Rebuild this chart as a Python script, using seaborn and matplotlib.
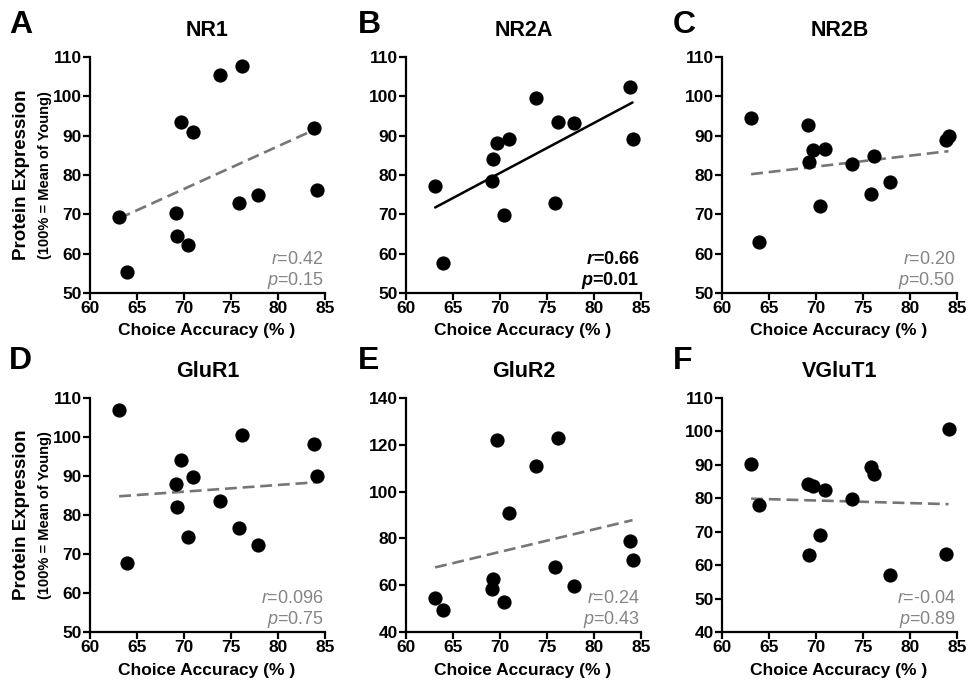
import matplotlib
matplotlib.use("Agg")
import matplotlib.pyplot as plt
import seaborn as sns
import pandas as pd

# choice accuracy (%) of the 13 aged rats, same for every panel
accuracy = [63.1, 63.9, 69.1, 69.3, 69.7, 70.4, 71.0, 73.8, 75.8, 76.2, 77.9, 83.8, 84.1]

# protein expression (% of young mean) per marker
nr1 = [69.3, 55.3, 70.3, 64.5, 93.6, 62.2, 90.9, 105.4, 72.8, 107.8, 75.0, 92.0, 76.2]
nr2a = [77.3, 57.6, 78.4, 84.1, 88.1, 69.8, 89.2, 99.5, 72.8, 93.6, 93.2, 102.4, 89.1]
nr2b = [94.4, 63.0, 92.7, 83.2, 86.3, 72.1, 86.7, 82.7, 75.2, 84.8, 78.2, 89.0, 90.0]
glur1 = [107.0, 67.7, 88.0, 82.0, 94.2, 74.3, 89.8, 83.7, 76.7, 100.6, 72.2, 98.2, 89.9]
glur2 = [54.6, 49.6, 58.3, 62.8, 122.2, 52.8, 90.9, 111.0, 67.6, 122.8, 59.8, 78.7, 70.7]
vglut1 = [90.2, 78.0, 84.4, 63.0, 83.6, 69.1, 82.6, 79.8, 89.5, 87.3, 57.0, 63.2, 100.8]

letters = ["A", "B", "C", "D", "E", "F"]
proteins = ["NR1", "NR2A", "NR2B", "GluR1", "GluR2", "VGluT1"]
values = [nr1, nr2a, nr2b, glur1, glur2, vglut1]
r_text = ["0.42", "0.66", "0.20", "0.096", "0.24", "-0.04"]
p_text = ["0.15", "0.01", "0.50", "0.75", "0.43", "0.89"]
significant = [False, True, False, False, False, False]
y_ranges = [(50, 110), (50, 110), (50, 110), (50, 110), (40, 140), (40, 110)]
y_steps = [10, 10, 10, 10, 20, 10]

sns.set_style("ticks")
plt.rcParams["font.family"] = ["Liberation Sans", "DejaVu Sans"]
plt.rcParams["text.color"] = "black"
plt.rcParams["axes.labelcolor"] = "black"
plt.rcParams["mathtext.fontset"] = "custom"
plt.rcParams["mathtext.it"] = "Liberation Sans:italic:normal"
plt.rcParams["mathtext.rm"] = "Liberation Sans:normal"
plt.rcParams["mathtext.bf"] = "Liberation Sans:bold"
plt.rcParams["mathtext.bfit"] = "Liberation Sans:bold:italic"

W, H = 968, 688
fig = plt.figure(figsize=(W / 100, H / 100), dpi=100)

lefts = [90, 406, 722]
rows = [(57, 293), (398, 632)]

for i in range(6):
    row, col = divmod(i, 3)
    top, bot = rows[row]
    left = lefts[col]
    ax = fig.add_axes([left / W, (H - bot) / H, 235 / W, (bot - top) / H])

    df = pd.DataFrame({"x": accuracy, "y": values[i]})
    if significant[i]:
        line_kws = dict(color="black", lw=1.8, ls="-")
    else:
        line_kws = dict(color="#767676", lw=1.9, ls=(0, (4.5, 2.2)))
    sns.regplot(data=df, x="x", y="y", ax=ax, ci=None, truncate=True,
                scatter_kws=dict(s=105, color="black", alpha=1, linewidths=0, zorder=3),
                line_kws=line_kws)

    ymin, ymax = y_ranges[i]
    ax.set_xlim(60, 85)
    ax.set_ylim(ymin, ymax)
    ax.set_xticks(range(60, 86, 5))
    ax.set_yticks(range(ymin, ymax + 1, y_steps[i]))
    ax.set_xlabel("")
    ax.set_ylabel("")
    sns.despine(ax=ax)
    for s in ["left", "bottom"]:
        ax.spines[s].set_linewidth(1.6)
        ax.spines[s].set_color("black")
    ax.tick_params(width=1.6, length=5, labelsize=12.5, pad=1, colors="black")
    for lab in ax.get_xticklabels() + ax.get_yticklabels():
        lab.set_fontweight("bold")

    ax.set_title(proteins[i], fontsize=15.5, fontweight="bold", pad=15, color="black")
    cx = (left + 117) / W
    fig.text(cx, (H - bot - 38) / H, "Choice Accuracy (% )", ha="center", va="center",
             fontsize=12.5, fontweight="bold")
    lx = [9, 358, 673][col] / W
    ly = [25, 361][row]
    fig.text(lx, (H - ly) / H, letters[i], ha="left", va="center", fontsize=23, fontweight="bold")

    if significant[i]:
        col_t = "black"
        rstr = r"$\mathbfit{r}$=" + r_text[i]
        pstr = r"$\mathbfit{p}$=" + p_text[i]
        wt = "bold"
    else:
        col_t = "#858585"
        rstr = r"$\mathit{r}$=" + r_text[i]
        pstr = r"$\mathit{p}$=" + p_text[i]
        wt = "normal"
    ax.text(0.995, 0.125, rstr, transform=ax.transAxes, ha="right", va="baseline",
            fontsize=13, color=col_t, fontweight=wt)
    ax.text(0.995, 0.035, pstr, transform=ax.transAxes, ha="right", va="baseline",
            fontsize=13, color=col_t, fontweight=wt)

    if col == 0:
        cy = (H - (top + bot) / 2) / H
        fig.text(22 / W, cy, "Protein Expression", rotation=90, ha="center", va="center",
                 fontsize=13.5, fontweight="bold")
        fig.text(45 / W, cy, "(100% = Mean of Young)", rotation=90, ha="center", va="center",
                 fontsize=10.5, fontweight="bold")

fig.savefig("out.png", dpi=100)
